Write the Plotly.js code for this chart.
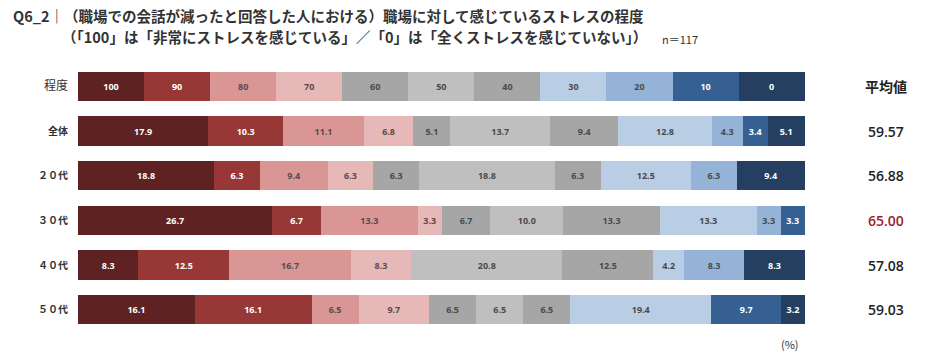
<!DOCTYPE html>
<html><head><meta charset="utf-8">
<script src="https://cdn.plot.ly/plotly-3.0.1.min.js"></script>
<style>html,body{margin:0;padding:0;background:#fff;}#chart{width:940px;height:361px;}</style>
</head><body><div id="chart"></div>
<script>
// ---- data ----
const levels = ['100','90','80','70','60','50','40','30','20','10','0'];
const legendLabel = '程度';
const rowLabels = ['全体','２０代','３０代','４０代','５０代'];
const overall = [17.9,10.3,11.1,6.8,5.1,13.7,9.4,12.8,4.3,3.4,5.1];
const age20   = [18.8,6.3,9.4,6.3,6.3,18.8,6.3,12.5,6.3,0,9.4];
const age30   = [26.7,6.7,13.3,3.3,6.7,10.0,13.3,13.3,3.3,3.3,0];
const age40   = [8.3,12.5,16.7,8.3,0,20.8,12.5,4.2,8.3,0,8.3];
const age50   = [16.1,16.1,6.5,9.7,6.5,6.5,6.5,19.4,0,9.7,3.2];
const averages = ['59.57','56.88','65.00','57.08','59.03'];
const highlightRow = '３０代';
const averageHeader = '平均値';
const titleLine1 = 'Q6_2｜（職場での会話が減ったと回答した人における）職場に対して感じているストレスの程度';
const titleLine2 = '（「100」は「非常にストレスを感じている」／「0」は「全くストレスを感じていない」）';
const sampleNote = 'n＝117';
const unitNote = '(%)';

// ---- styles ----
const colors = ['#5E2222','#973736','#D99695','#E7B8B8','#A6A6A6','#BFBFBF','#A6A6A6','#B9CDE5','#95B3D7','#376092','#243F60'];
const textColors = ['#ffffff','#ffffff','#5a4a4a','#5a4a4a','#4a4a4a','#4a4a4a','#4a4a4a','#4a4a4a','#4a4a4a','#ffffff','#ffffff'];
const rows = [overall, age20, age30, age40, age50];
const JP = '"Noto Sans CJK JP", "Noto Sans", sans-serif';
const NUM = '"Open Sans", "Noto Sans", sans-serif';

const L = 78, R = 135, T = 64, B = 28.5, W = 940, H = 361;
const pw = W - L - R, ph = H - T - B;
const px2x = p => (p - L) / pw;
const py2y = p => (H - B - p) / ph;

const cats = [legendLabel].concat(rowLabels);
const traces = levels.map((lv, i) => {
  const xs = [1].concat(rows.map(r => r[i]));
  const ts = [lv].concat(rows.map(r => r[i] > 0 ? r[i].toFixed(1) : ''));
  return {
    type: 'bar', orientation: 'h', name: lv,
    y: cats, x: xs, text: ts,
    textposition: 'inside', insidetextanchor: 'middle', textangle: 0,
    textfont: {family: NUM, size: 9, color: textColors[i], weight: 700},
    marker: {color: colors[i], line: {width: 0}},
    width: 0.66, hoverinfo: 'skip', cliponaxis: false
  };
});

const ticktext = cats.map((c, i) => i === 0
  ? '<span style="font-size:12px">' + c + '</span>'
  : '<b>' + c + '</b>');

const annotations = [
  {text: '<b>' + titleLine1 + '</b>', x: px2x(11), y: py2y(15), xref: 'paper', yref: 'paper',
   xanchor: 'left', yanchor: 'middle', showarrow: false, font: {family: JP, size: 14.5, color: '#333'}},
  {text: '<b>' + titleLine2 + '</b>', x: px2x(60), y: py2y(36), xref: 'paper', yref: 'paper',
   xanchor: 'left', yanchor: 'middle', showarrow: false, font: {family: JP, size: 14.5, color: '#333'}},
  {text: sampleNote, x: px2x(660), y: py2y(39), xref: 'paper', yref: 'paper',
   xanchor: 'left', yanchor: 'middle', showarrow: false, font: {family: JP, size: 11, color: '#333'}},
  {text: unitNote, x: px2x(790), y: py2y(345), xref: 'paper', yref: 'paper',
   xanchor: 'center', yanchor: 'middle', showarrow: false, font: {family: JP, size: 11, color: '#333'}},
  {text: '<b>' + averageHeader + '</b>', x: px2x(886), y: legendLabel, xref: 'paper', yref: 'y',
   xanchor: 'center', yanchor: 'middle', showarrow: false, font: {family: JP, size: 14, color: '#222'}}
];
rowLabels.forEach((r, i) => {
  annotations.push({text: averages[i], x: px2x(886), y: r, xref: 'paper', yref: 'y',
    xanchor: 'center', yanchor: 'middle', showarrow: false,
    font: {family: NUM, size: 14, weight: 600, color: r === highlightRow ? '#9E1F1F' : '#222'}});
});

const layout = {
  width: W, height: H,
  margin: {l: L, r: R, t: T, b: B, pad: 0},
  paper_bgcolor: '#fff', plot_bgcolor: '#fff',
  barmode: 'stack', barnorm: 'percent', showlegend: false,
  xaxis: {range: [0, 100.05], visible: false, fixedrange: true},
  yaxis: {type: 'category', categoryorder: 'array', categoryarray: cats, autorange: 'reversed',
          tickvals: cats, ticktext: ticktext, showgrid: false, zeroline: false, showline: false,
          ticks: '', ticklabelstandoff: 9, tickfont: {family: JP, size: 10, color: '#333'}, fixedrange: true},
  annotations: annotations,
  font: {family: JP}
};

Plotly.newPlot('chart', traces, layout, {staticPlot: true, displayModeBar: false});
</script>
</body></html>
